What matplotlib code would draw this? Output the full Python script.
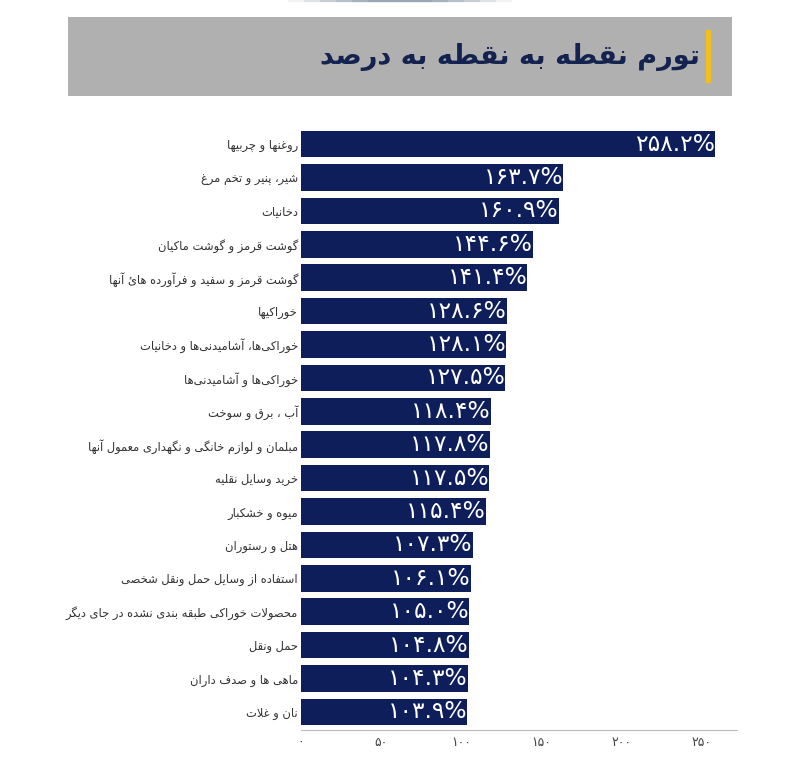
import matplotlib
matplotlib.use("Agg")
import matplotlib.pyplot as plt
from matplotlib.patches import Rectangle

# ---------------- data ----------------
categories = [
    "روغنها و چربیها",
    "شیر، پنیر و تخم مرغ",
    "دخانیات",
    "گوشت قرمز و گوشت ماکیان",
    "گوشت قرمز و سفید و فرآورده هائ آنها",
    "خوراکیها",
    "خوراکی\u200cها، آشامیدنی\u200cها و دخانیات",
    "خوراکی\u200cها و آشامیدنی\u200cها",
    "آب ، برق و سوخت",
    "مبلمان و لوازم خانگی و نگهداری معمول آنها",
    "خرید وسایل نقلیه",
    "میوه و خشکبار",
    "هتل و رستوران",
    "استفاده از وسایل حمل ونقل شخصی",
    "محصولات خوراکی طبقه بندی نشده در جای دیگر",
    "حمل ونقل",
    "ماهی ها و صدف داران",
    "نان و غلات",
]
values = [258.2, 163.7, 160.9, 144.6, 141.4, 128.6, 128.1, 127.5, 118.4,
          117.8, 117.5, 115.4, 107.3, 106.1, 105.0, 104.8, 104.3, 103.9]
xticks = [0, 50, 100, 150, 200, 250]
title = "تورم نقطه به نقطه به درصد"

# ---------------- minimal Arabic/Persian shaping ----------------
# char: (isolated, final, initial, medial) ; None initial => right-joining only
FORMS = {
    '\u0621': (0xFE80, None, None, None),
    '\u0622': (0xFE81, 0xFE82, None, None),
    '\u0623': (0xFE83, 0xFE84, None, None),
    '\u0624': (0xFE85, 0xFE86, None, None),
    '\u0625': (0xFE87, 0xFE88, None, None),
    '\u0626': (0xFE89, 0xFE8A, 0xFE8B, 0xFE8C),
    '\u0627': (0xFE8D, 0xFE8E, None, None),
    '\u0628': (0xFE8F, 0xFE90, 0xFE91, 0xFE92),
    '\u0629': (0xFE93, 0xFE94, None, None),
    '\u062A': (0xFE95, 0xFE96, 0xFE97, 0xFE98),
    '\u062B': (0xFE99, 0xFE9A, 0xFE9B, 0xFE9C),
    '\u062C': (0xFE9D, 0xFE9E, 0xFE9F, 0xFEA0),
    '\u062D': (0xFEA1, 0xFEA2, 0xFEA3, 0xFEA4),
    '\u062E': (0xFEA5, 0xFEA6, 0xFEA7, 0xFEA8),
    '\u062F': (0xFEA9, 0xFEAA, None, None),
    '\u0630': (0xFEAB, 0xFEAC, None, None),
    '\u0631': (0xFEAD, 0xFEAE, None, None),
    '\u0632': (0xFEAF, 0xFEB0, None, None),
    '\u0633': (0xFEB1, 0xFEB2, 0xFEB3, 0xFEB4),
    '\u0634': (0xFEB5, 0xFEB6, 0xFEB7, 0xFEB8),
    '\u0635': (0xFEB9, 0xFEBA, 0xFEBB, 0xFEBC),
    '\u0636': (0xFEBD, 0xFEBE, 0xFEBF, 0xFEC0),
    '\u0637': (0xFEC1, 0xFEC2, 0xFEC3, 0xFEC4),
    '\u0638': (0xFEC5, 0xFEC6, 0xFEC7, 0xFEC8),
    '\u0639': (0xFEC9, 0xFECA, 0xFECB, 0xFECC),
    '\u063A': (0xFECD, 0xFECE, 0xFECF, 0xFED0),
    '\u0641': (0xFED1, 0xFED2, 0xFED3, 0xFED4),
    '\u0642': (0xFED5, 0xFED6, 0xFED7, 0xFED8),
    '\u0643': (0xFED9, 0xFEDA, 0xFEDB, 0xFEDC),
    '\u0644': (0xFEDD, 0xFEDE, 0xFEDF, 0xFEE0),
    '\u0645': (0xFEE1, 0xFEE2, 0xFEE3, 0xFEE4),
    '\u0646': (0xFEE5, 0xFEE6, 0xFEE7, 0xFEE8),
    '\u0647': (0xFEE9, 0xFEEA, 0xFEEB, 0xFEEC),
    '\u0648': (0xFEED, 0xFEEE, None, None),
    '\u0649': (0xFEEF, 0xFEF0, None, None),
    '\u064A': (0xFEF1, 0xFEF2, 0xFEF3, 0xFEF4),
    '\u067E': (0xFB56, 0xFB57, 0xFB58, 0xFB59),
    '\u0686': (0xFB7A, 0xFB7B, 0xFB7C, 0xFB7D),
    '\u0698': (0xFB8A, 0xFB8B, None, None),
    '\u06A9': (0xFB8E, 0xFB8F, 0xFB90, 0xFB91),
    '\u06AF': (0xFB92, 0xFB93, 0xFB94, 0xFB95),
    '\u06CC': (0xFBFC, 0xFBFD, 0xFBFE, 0xFBFF),
}
LAM_ALEF = {'\u0627': (0xFEFB, 0xFEFC), '\u0622': (0xFEF5, 0xFEF6),
            '\u0623': (0xFEF7, 0xFEF8), '\u0625': (0xFEF9, 0xFEFA)}


def dual(c):
    return c in FORMS and FORMS[c][2] is not None


def joins(c):
    return c in FORMS and FORMS[c][1] is not None


def shape(text):
    chars = list(text)
    out = []
    i = 0
    n = len(chars)
    while i < n:
        c = chars[i]
        if c == '\u200c':
            i += 1
            continue
        if c not in FORMS:
            out.append(c)
            i += 1
            continue
        prev = chars[i - 1] if i > 0 else ''
        jp = dual(prev)
        if c == '\u0644' and i + 1 < n and chars[i + 1] in LAM_ALEF:
            iso, fin = LAM_ALEF[chars[i + 1]]
            out.append(chr(fin if jp else iso))
            i += 2
            continue
        nxt = chars[i + 1] if i + 1 < n else ''
        jn = dual(c) and joins(nxt)
        iso, fin, ini, med = FORMS[c]
        if jp and jn:
            g = med
        elif jp:
            g = fin if fin else iso
        elif jn:
            g = ini
        else:
            g = iso
        out.append(chr(g))
        i += 1
    return ''.join(reversed(out))


PD = str.maketrans('0123456789', '۰۱۲۳۴۵۶۷۸۹')


def fa_num(s):
    return s.translate(PD)


# ---------------- figure ----------------
plt.rcParams['font.family'] = ['DejaVu Sans']
navy = '#0E1E5B'
fig = plt.figure(figsize=(8.0, 7.76), dpi=100)

# title box
fig.patches.append(Rectangle((0.085, 0.8763), 0.83, 0.1018, transform=fig.transFigure,
                             facecolor='#B0B0B0', edgecolor='none', zorder=0))
fig.patches.append(Rectangle((0.8825, 0.893), 0.0065, 0.068, transform=fig.transFigure,
                             facecolor='#F2BE1A', edgecolor='none', zorder=1))
fig.text(0.875, 0.927, shape(title), ha='right', va='center', fontsize=19.5,
         color='#13224F', fontweight='bold')
# faint decorative arc at top
for x0, x1, a in [(0.36, 0.64, 0.08), (0.38, 0.62, 0.12), (0.40, 0.60, 0.15),
                  (0.42, 0.58, 0.15), (0.44, 0.56, 0.15), (0.46, 0.54, 0.15)]:
    fig.lines.append(plt.Line2D([x0, x1], [0.999, 0.999], transform=fig.transFigure,
                                color='#4E687E', lw=1.6, alpha=a, solid_capstyle='butt'))

ax = fig.add_axes([0.376, 0.0593, 0.545, 0.777])
y = list(range(len(values)))
ax.barh(y, values, height=0.8, color=navy)
ax.set_ylim(len(values) - 1 + 0.54, -0.51)
ax.set_xlim(0, 272)

for yi, v in zip(y, values):
    ax.annotate(fa_num(f"{v:.1f}") + "%", (v, yi), xytext=(0, 0), textcoords='offset points',
                ha='right', va='center', color='white', fontsize=16.8)

ax.set_yticks(y)
ax.set_yticklabels([shape(c) for c in categories], fontsize=8.3, color='#333333')
ax.set_xticks(xticks)
ax.set_xticklabels([fa_num(str(t)) for t in xticks], fontsize=9, color='#444444')
ax.tick_params(axis='both', length=0, pad=2)
ax.tick_params(axis='x', pad=4)
for s in ['top', 'right', 'left']:
    ax.spines[s].set_visible(False)
ax.spines['bottom'].set_color('#BBBBBB')

fig.savefig('out.png', dpi=100, facecolor='white')
